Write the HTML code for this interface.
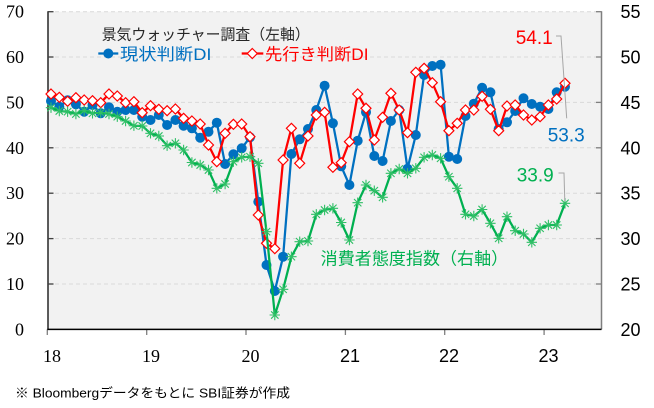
<!DOCTYPE html>
<html>
<head>
<meta charset="utf-8">
<style>
html,body{margin:0;padding:0;background:#fff;}
svg{display:block;}
.cj{font-family:"Liberation Sans","Noto Sans CJK JP",sans-serif;}
</style>
</head>
<body>
<svg width="654" height="408" viewBox="0 0 654 408" xmlns="http://www.w3.org/2000/svg">
<defs>
<marker id="mc" markerUnits="userSpaceOnUse" markerWidth="12" markerHeight="12" refX="6" refY="6" overflow="visible">
<circle cx="6" cy="6" r="5" fill="#0070c0"/>
</marker>
<marker id="md" markerUnits="userSpaceOnUse" markerWidth="12" markerHeight="12" refX="6" refY="6" overflow="visible">
<polygon points="6,1 11,6 6,11 1,6" fill="#ffffff" stroke="#ff0000" stroke-width="1.2"/>
</marker>
<marker id="ma" markerUnits="userSpaceOnUse" markerWidth="12" markerHeight="12" refX="6" refY="6" overflow="visible">
<path d="M0.8,6H11.2M6,0.8V11.2M2.3,2.3L9.7,9.7M2.3,9.7L9.7,2.3" stroke="#2fbf66" stroke-width="1.1" fill="none"/>
</marker>
</defs>

<rect x="0" y="0" width="654" height="408" fill="#ffffff"/>
<rect x="48" y="11.7" width="553.5" height="317.7" fill="#f2f2f2"/>

<g stroke="#d9d9d9" stroke-width="1" stroke-dasharray="4,3">
<line x1="48" y1="11.7" x2="601.5" y2="11.7"/>
<line x1="48" y1="57.0" x2="601.5" y2="57.0"/>
<line x1="48" y1="102.4" x2="601.5" y2="102.4"/>
<line x1="48" y1="147.8" x2="601.5" y2="147.8"/>
<line x1="48" y1="193.2" x2="601.5" y2="193.2"/>
<line x1="48" y1="238.6" x2="601.5" y2="238.6"/>
<line x1="48" y1="284.0" x2="601.5" y2="284.0"/>
</g>

<line x1="48" y1="11.2" x2="48" y2="329.4" stroke="#262626" stroke-width="1.5"/>
<line x1="601.5" y1="11.2" x2="601.5" y2="329.4" stroke="#7f7f7f" stroke-width="1.5"/>
<g stroke="#404040" stroke-width="1.3">
<line x1="48" y1="11.7" x2="53.5" y2="11.7"/>
<line x1="48" y1="57.0" x2="53.5" y2="57.0"/>
<line x1="48" y1="102.4" x2="53.5" y2="102.4"/>
<line x1="48" y1="147.8" x2="53.5" y2="147.8"/>
<line x1="48" y1="193.2" x2="53.5" y2="193.2"/>
<line x1="48" y1="238.6" x2="53.5" y2="238.6"/>
<line x1="48" y1="284.0" x2="53.5" y2="284.0"/>
</g>
<g stroke="#7f7f7f" stroke-width="1.3">
<line x1="596" y1="11.7" x2="601.5" y2="11.7"/>
<line x1="596" y1="57.0" x2="601.5" y2="57.0"/>
<line x1="596" y1="102.4" x2="601.5" y2="102.4"/>
<line x1="596" y1="147.8" x2="601.5" y2="147.8"/>
<line x1="596" y1="193.2" x2="601.5" y2="193.2"/>
<line x1="596" y1="238.6" x2="601.5" y2="238.6"/>
<line x1="596" y1="284.0" x2="601.5" y2="284.0"/>
</g>
<g stroke="#7f7f7f" stroke-width="1.3">
<line x1="47.3" y1="329.4" x2="47.3" y2="335"/>
<line x1="146.7" y1="329.4" x2="146.7" y2="335"/>
<line x1="246.0" y1="329.4" x2="246.0" y2="335"/>
<line x1="345.4" y1="329.4" x2="345.4" y2="335"/>
<line x1="444.7" y1="329.4" x2="444.7" y2="335"/>
<line x1="544.1" y1="329.4" x2="544.1" y2="335"/>
</g>
<line x1="47.3" y1="329.4" x2="601.5" y2="329.4" stroke="#000000" stroke-width="1.5"/>

<g font-family="'Liberation Serif',serif" font-size="18" fill="#000" text-anchor="end">
<text x="24" y="17.7">70</text>
<text x="24" y="63.0">60</text>
<text x="24" y="108.4">50</text>
<text x="24" y="153.8">40</text>
<text x="24" y="199.2">30</text>
<text x="24" y="244.6">20</text>
<text x="24" y="290.0">10</text>
<text x="24" y="335.4">0</text>
</g>
<g font-family="'Liberation Sans',sans-serif" font-size="18" fill="#000">
<text x="620.5" y="18.2">55</text>
<text x="620.5" y="63.5">50</text>
<text x="620.5" y="108.9">45</text>
<text x="620.5" y="154.3">40</text>
<text x="620.5" y="199.7">35</text>
<text x="620.5" y="245.1">30</text>
<text x="620.5" y="290.5">25</text>
<text x="620.5" y="335.9">20</text>
</g>
<g font-size="18" fill="#000" text-anchor="middle">
<text x="52" y="362" font-family="'Liberation Serif',serif">18</text>
<text x="151" y="362" font-family="'Liberation Serif',serif">19</text>
<text x="250.5" y="362" font-family="'Liberation Serif',serif">20</text>
<text x="350" y="362" font-family="'Liberation Sans',sans-serif">21</text>
<text x="449" y="362" font-family="'Liberation Sans',sans-serif">22</text>
<text x="548.5" y="362" font-family="'Liberation Sans',sans-serif">23</text>
</g>

<polyline fill="none" stroke="#0070c0" stroke-width="2.25" stroke-linejoin="round" marker-start="url(#mc)" marker-mid="url(#mc)" marker-end="url(#mc)"
points="51.0,101.0 59.3,106.7 67.6,100.3 75.9,104.3 84.2,111.7 92.5,105.0 100.7,113.3 109.0,107.3 117.3,111.7 125.6,110.0 133.9,110.0 142.2,116.7 150.5,120.0 158.8,115.0 167.1,125.0 175.4,120.0 183.6,125.7 191.9,128.3 200.2,137.7 208.5,131.7 216.8,122.7 225.1,164.0 233.4,154.3 241.7,148.3 250.0,137.3 258.3,201.7 266.5,265.0 274.8,291.0 283.1,256.7 291.4,154.0 299.7,139.3 308.0,129.0 316.3,110.0 324.6,85.7 332.9,123.3 341.2,166.3 349.4,185.0 357.7,140.7 366.0,112.3 374.3,156.0 382.6,161.0 390.9,121.0 399.2,110.0 407.5,168.7 415.8,135.0 424.1,75.0 432.3,66.0 440.6,64.7 448.9,156.7 457.2,159.0 465.5,116.0 473.8,103.7 482.1,87.8 490.4,92.3 498.7,129.0 507.0,122.3 515.2,111.0 523.5,98.3 531.8,104.0 540.1,106.7 548.4,109.0 556.7,92.3 565.0,86.7"/>

<polyline fill="none" stroke="#ff0000" stroke-width="2.25" stroke-linejoin="round" marker-start="url(#md)" marker-mid="url(#md)" marker-end="url(#md)"
points="51.0,94.0 59.3,97.3 67.6,101.3 75.9,97.7 84.2,100.0 92.5,100.7 100.7,102.7 109.0,94.0 117.3,96.0 125.6,102.7 133.9,101.7 142.2,112.7 150.5,105.7 158.8,109.3 167.1,110.7 175.4,109.0 183.6,118.3 191.9,121.0 200.2,124.0 208.5,145.0 216.8,161.7 225.1,133.3 233.4,124.3 241.7,124.0 250.0,136.7 258.3,215.0 266.5,243.3 274.8,248.7 283.1,160.0 291.4,128.3 299.7,163.3 308.0,136.0 316.3,115.0 324.6,112.3 332.9,167.3 341.2,162.7 349.4,141.7 357.7,94.0 366.0,108.3 374.3,140.0 382.6,117.3 390.9,93.3 399.2,110.0 407.5,132.7 415.8,72.3 424.1,68.3 432.3,82.7 440.6,101.7 448.9,130.7 457.2,123.3 465.5,110.0 473.8,110.0 482.1,96.3 490.4,109.3 498.7,130.7 507.0,106.0 515.2,105.0 523.5,115.0 531.8,120.0 540.1,116.7 548.4,105.0 556.7,99.0 565.0,83.3"/>

<polyline fill="none" stroke="#00b050" stroke-width="2.25" stroke-linejoin="round" marker-start="url(#ma)" marker-mid="url(#ma)" marker-end="url(#ma)"
points="51.0,107.7 59.3,111.0 67.6,111.7 75.9,114.0 84.2,110.7 92.5,113.3 100.7,112.7 109.0,114.0 117.3,116.7 125.6,121.0 133.9,125.7 142.2,126.0 150.5,133.3 158.8,136.0 167.1,145.7 175.4,143.3 183.6,150.0 191.9,162.5 200.2,165.0 208.5,170.0 216.8,188.3 225.1,184.0 233.4,161.7 241.7,157.3 250.0,156.7 258.3,163.3 266.5,231.7 274.8,315.0 283.1,289.3 291.4,256.7 299.7,241.7 308.0,241.0 316.3,214.3 324.6,210.0 332.9,208.3 341.2,222.5 349.4,240.0 357.7,202.7 366.0,185.0 374.3,190.7 382.6,197.3 390.9,173.3 399.2,169.0 407.5,173.3 415.8,168.3 424.1,157.3 432.3,155.0 440.6,158.3 448.9,176.7 457.2,188.3 465.5,214.3 473.8,216.0 482.1,209.5 490.4,223.3 498.7,238.3 507.0,216.7 515.2,230.7 523.5,234.0 531.8,242.3 540.1,228.3 548.4,225.0 556.7,225.0 565.0,203.3"/>

<text class="cj" x="101.7" y="39.5" font-size="15" fill="#262626" textLength="208" lengthAdjust="spacingAndGlyphs">景気ウォッチャー調査（左軸）</text>
<line x1="98.3" y1="53.5" x2="118.3" y2="53.5" stroke="#0070c0" stroke-width="2.25"/>
<circle cx="108.3" cy="53.5" r="5" fill="#0070c0"/>
<text class="cj" x="120" y="60" font-size="16.5" fill="#0070c0" textLength="91.5" lengthAdjust="spacingAndGlyphs">現状判断DI</text>
<line x1="241.7" y1="53.5" x2="263.3" y2="53.5" stroke="#ff0000" stroke-width="2.25"/>
<polygon points="252.3,48.5 257.3,53.5 252.3,58.5 247.3,53.5" fill="#fff" stroke="#ff0000" stroke-width="1.2"/>
<text class="cj" x="265" y="60" font-size="16.5" fill="#ff0000" textLength="103.5" lengthAdjust="spacingAndGlyphs">先行き判断DI</text>

<text class="cj" x="320.7" y="264.5" font-size="17" fill="#00b050" textLength="187.5" lengthAdjust="spacingAndGlyphs">消費者態度指数（右軸）</text>

<polyline points="556,36 561,36 566.7,118.3" fill="none" stroke="#a6a6a6" stroke-width="1"/>
<polyline points="558.5,173 564,173 564.8,201.5" fill="none" stroke="#a6a6a6" stroke-width="1"/>
<text x="515.7" y="44" font-family="'Liberation Sans',sans-serif" font-size="19" fill="#ff0000">54.1</text>
<text x="547.7" y="141.5" font-family="'Liberation Sans',sans-serif" font-size="19" fill="#0070c0">53.3</text>
<text x="516.7" y="181.7" font-family="'Liberation Sans',sans-serif" font-size="19" fill="#00b050">33.9</text>

<text class="cj" x="15" y="397.5" font-size="13" fill="#000" textLength="275" lengthAdjust="spacingAndGlyphs">※ Bloombergデータをもとに SBI証券が作成</text>
</svg>
</body>
</html>
